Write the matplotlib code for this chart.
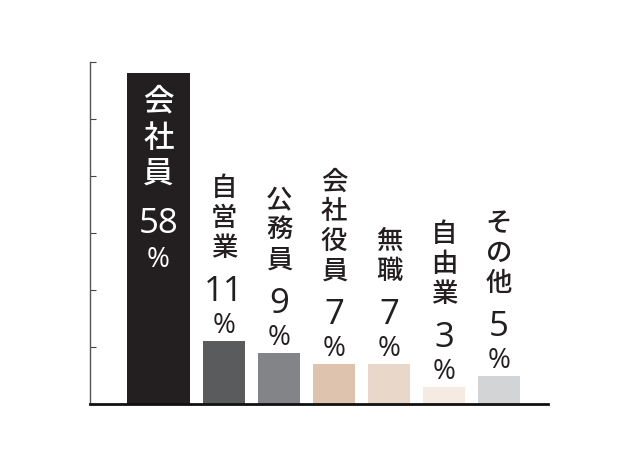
import matplotlib
matplotlib.use("Agg")
import matplotlib.pyplot as plt

categories = ["会社員", "自営業", "公務員", "会社役員", "無職", "自由業", "その他"]
values = [58, 11, 9, 7, 7, 3, 5]
value_labels = ["58", "11", "9", "7", "7", "3", "5"]
colors = ["#231f20", "#5a5b5d", "#838487", "#dec3ae", "#e9d8ca", "#f5ebe2", "#d3d4d5"]

# layout (bar positions / widths)
positions = [-0.19, 1, 2, 3, 4, 5, 6]
widths = [1.145, 0.764, 0.764, 0.764, 0.764, 0.764, 0.764]

CJK = ["Noto Sans CJK JP", "DejaVu Sans"]
NUM = ["Open Sans", "DejaVu Sans"]

fig = plt.figure(figsize=(6.4, 4.65), dpi=100)
ax = fig.add_axes([90 / 640, 61 / 465, 458 / 640, 342 / 465])

ax.bar(positions, values, width=widths, color=colors, zorder=2)
ax.set_xlim(-1.436, 6.89)
ax.set_ylim(0, 60)
ax.set_yticks(range(0, 61, 10))
ax.set_yticklabels([])
ax.set_xticks([])
ax.tick_params(axis="y", direction="in", length=4, width=0.8, color="#444444")
for s in ["top", "right"]:
    ax.spines[s].set_visible(False)
ax.spines["left"].set_color("#555555")
ax.spines["left"].set_linewidth(1.0)
ax.spines["bottom"].set_color("#111111")
ax.spines["bottom"].set_linewidth(2.0)

px = 0.72  # points per pixel

# big bar: text inside, white
x0, v0 = positions[0], values[0]
ax.annotate("\n".join(categories[0]), (x0, v0), xytext=(0, -13 * px),
            textcoords="offset points", ha="center", va="top", color="white",
            fontsize=22, family=CJK, fontweight="medium", linespacing=1.22)
ax.annotate(value_labels[0], (x0, v0), xytext=(0, -134 * px),
            textcoords="offset points", ha="center", va="top", color="white",
            fontsize=25, family=NUM)
ax.annotate("%", (x0, v0), xytext=(0, -173 * px),
            textcoords="offset points", ha="center", va="top", color="white",
            fontsize=20, family=NUM)

for cat, v, lab, x in zip(categories[1:], values[1:], value_labels[1:], positions[1:]):
    ax.annotate("%", (x, v), xytext=(0, 8 * px), textcoords="offset points",
                ha="center", va="baseline", color="#231f20", fontsize=20, family=NUM)
    ax.annotate(lab, (x, v), xytext=(0, 40 * px), textcoords="offset points",
                ha="center", va="baseline", color="#231f20", fontsize=25, family=NUM)
    ax.annotate("\n".join(cat), (x, v), xytext=(0, 79 * px), textcoords="offset points",
                ha="center", va="bottom", color="#231f20", fontsize=19, family=CJK,
                fontweight="medium", linespacing=1.14)

fig.savefig("out.png", dpi=100)
